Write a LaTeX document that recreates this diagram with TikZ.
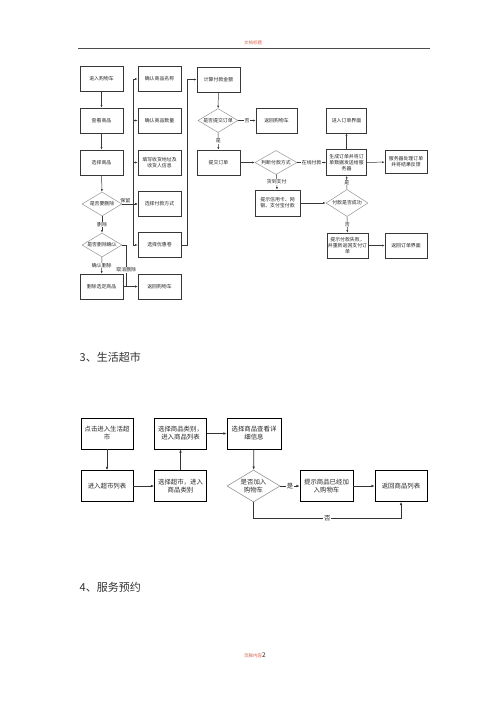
\documentclass[tikz,border=0pt]{standalone}
\usepackage{fontspec}
\usepackage{tikz}
\usepackage{xcolor}
\usetikzlibrary{shapes}
\usetikzlibrary{positioning, fit, arrows.meta}
\newfontfamily\cjk{Noto Sans CJK SC}
\definecolor{headred}{RGB}{214,100,80}
\definecolor{linegray}{RGB}{55,55,55}
\definecolor{diagray}{RGB}{150,150,150}

\begin{document}
\begin{tikzpicture}[x=1pt, y=-1pt,
        every node/.style={font=\cjk\fontsize{4.9}{6}\selectfont, align=center, inner sep=0.5pt, text=black!85},
        box/.style={draw=linegray, line width=0.6pt, minimum width=43, minimum height=25},
        choice/.style={diamond, aspect=1.8, inner sep=0pt, draw=diagray, line width=0.5pt, minimum width=40, minimum height=24},
        bigbox/.style={draw=black, line width=0.7pt, minimum width=52, minimum height=31, font=\cjk\fontsize{6.4}{8}\selectfont},
        bigchoice/.style={diamond, aspect=1.6, inner sep=0pt, draw=diagray, line width=0.6pt, minimum width=53, minimum height=32, font=\cjk\fontsize{6.4}{8}\selectfont},
        flow/.style={-{Latex[length=2.6pt, width=2pt]}, draw=linegray, line width=0.5pt},
        bigflow/.style={-{Latex[length=3.2pt, width=2.6pt]}, draw=black!80, line width=0.7pt},
        lab/.style={fill=white, inner sep=0.6pt},
        biglab/.style={fill=white, inner sep=0.8pt, font=\cjk\fontsize{6.4}{8}\selectfont}]
    \useasboundingbox[fill=white] (0,0) rectangle (500,707);

    % Page header and footer
    \node[text=headred, font=\cjk\fontsize{4.5}{5}\selectfont] (head) at (253,43) {文档标题};
    \draw[black!70, line width=0.8pt] (78,48) -- (430,48);
    \node[font=\cjk\fontsize{4.5}{5}\selectfont] (foot) at (255,655) {\textcolor{headred}{页脚内容}{\fontsize{6.5}{7}\selectfont 2}};

    % Nodes: shopping cart
    \node[box] (cart) at (101.5,79) {进入购物车};
    \node[box] (viewgoods) at (101.5,120.5) {查看商品};
    \node[box] (pickgoods) at (101.5,162.5) {选择商品};
    \node[choice] (delq) at (102,204) {是否要删除};
    \node[choice] (delconfirm) at (102,245) {是否删除确认};
    \node[box] (delgoods) at (101.5,286.5) {删除选定商品};

    \node[box] (goodsname) at (159.5,79) {确认商品名称};
    \node[box] (goodsnum) at (159.5,120.5) {确认商品数量};
    \node[box] (address) at (159.5,162.5) {填写收货地址及\\收货人信息};
    \node[box] (paymode) at (159.5,204) {选择付款方式};
    \node[box] (coupon) at (159.5,245) {选择优惠卷};
    \node[box] (backcart) at (159.5,286.5) {返回购物车};

    \node[box] (total) at (218.5,79.5) {计算付款金额};
    \node[choice] (submitq) at (218,120.5) {是否提交订单};
    \node[box] (submit) at (218.5,162.5) {提交订单};
    \node[box, minimum width=41] (backcart2) at (276.5,120.5) {返回购物车};
    \node[choice, minimum width=42] (payjudge) at (276,162.5) {判断付款方式};
    \node[box, minimum width=45, minimum height=26] (cardtip) at (277.5,203) {提示信用卡、网\\银、支付宝付款};

    \node[box, minimum width=40] (enterorder) at (346.5,120.5) {进入订单界面};
    \node[box, minimum width=40, minimum height=26] (genorder) at (346.5,162.5) {生成订单并将订\\单数据发送给服\\务器};
    \node[box, minimum width=42, minimum height=23] (server) at (406,162) {服务器处理订单\\并将结果反馈};
    \node[choice, minimum width=42, minimum height=27] (payok) at (347,203) {付款是否成功};
    \node[box, minimum width=41] (payfail) at (347.5,245.5) {提示付款失败，\\并重新返回支付订\\单};
    \node[box, minimum width=42] (backorder) at (406,245.5) {返回订单界面};

    % Edges: shopping cart
    \draw[flow] (cart) -- (viewgoods);
    \draw[flow] (viewgoods) -- (pickgoods);
    \draw[flow] (pickgoods) -- (delq);
    \draw[flow] (delq) -- node[lab] {删除} (delconfirm);
    \draw[flow] (delconfirm) -- node[lab] {确认删除} (delgoods);
    \draw[flow] (delq.east) -- node[above, pos=0.2, inner sep=1pt] {保留} (paymode.west);
    \draw[flow] (delconfirm.east) -- ++(4,0) |- node[lab, pos=0.3] {取消删除} (backcart.west);
    \draw[flow] (delgoods) -- (backcart);

    % bus into the second column
    \coordinate (busT) at (133,79);
    \coordinate (busB) at (133,245);
    \draw[linegray, line width=0.5pt] (busB) -- (busT);
    \draw[flow] (busT) -- (goodsname.west);
    \draw[flow] (busT |- goodsnum.west) -- (goodsnum.west);
    \draw[flow] (busT |- address.west) -- (address.west);
    \draw[flow] (busT |- paymode.west) -- (paymode.west);
    \draw[flow] (busB) -- (coupon.west);

    \draw[flow] (coupon.east) -- ++(6,0) |- (total.west);
    \draw[flow] (total) -- (submitq);
    \draw[flow] (submitq) -- node[lab] {否} (backcart2);
    \draw[flow] (submitq) -- node[lab] {是} (submit);
    \draw[flow] (submit) -- (payjudge);
    \draw[flow] (payjudge) -- node[lab] {在线付款} (genorder);
    \draw[flow] (payjudge) -- node[lab] {货到支付} (cardtip);
    \draw[flow] (genorder) -- (enterorder);
    \draw[flow] (genorder) -- (server);
    \draw[flow] (cardtip) -- (payok);
    \draw[flow] (payok) -- node[lab] {是} (genorder);
    \draw[flow] (payok) -- node[lab] {否} (payfail);
    \draw[flow] (payfail) -- (backorder);

    % Section headings
    \node[anchor=west, font=\cjk\fontsize{11}{12}\selectfont, text=black!80] (sec3) at (79,357) {3、生活超市};
    \node[anchor=west, font=\cjk\fontsize{11}{12}\selectfont, text=black!80] (sec4) at (79,587) {4、服务预约};

    % Nodes: supermarket
    \node[bigbox] (mktenter) at (107,433.5) {点击进入生活超\\市};
    \node[bigbox] (mktlist) at (107,486) {进入超市列表};
    \node[bigbox] (mktpick) at (180.5,486) {选择超市，进入\\商品类别};
    \node[bigbox] (catpick) at (180.5,433.5) {选择商品类别，\\进入商品列表};
    \node[bigbox, minimum width=54] (detail) at (254,433.5) {选择商品查看详\\细信息};
    \node[bigchoice] (addq) at (253.5,486) {是否加入\\购物车};
    \node[bigbox, minimum width=53] (addtip) at (326.5,486) {提示商品已经加\\入购物车};
    \node[bigbox] (backlist) at (401,486) {返回商品列表};

    % Edges: supermarket
    \draw[bigflow] (mktenter) -- (mktlist);
    \draw[bigflow] (mktlist) -- (mktpick);
    \draw[bigflow] (mktpick) -- (catpick);
    \draw[bigflow] (catpick) -- (detail);
    \draw[bigflow] (detail) -- (addq);
    \draw[bigflow] (addq) -- node[biglab] {是} (addtip);
    \draw[bigflow] (addtip) -- (backlist);
    \draw[bigflow] (addq.south) -- ++(0,16) -| node[biglab, pos=0.25] {否} (backlist.south);

\end{tikzpicture}
\end{document}
